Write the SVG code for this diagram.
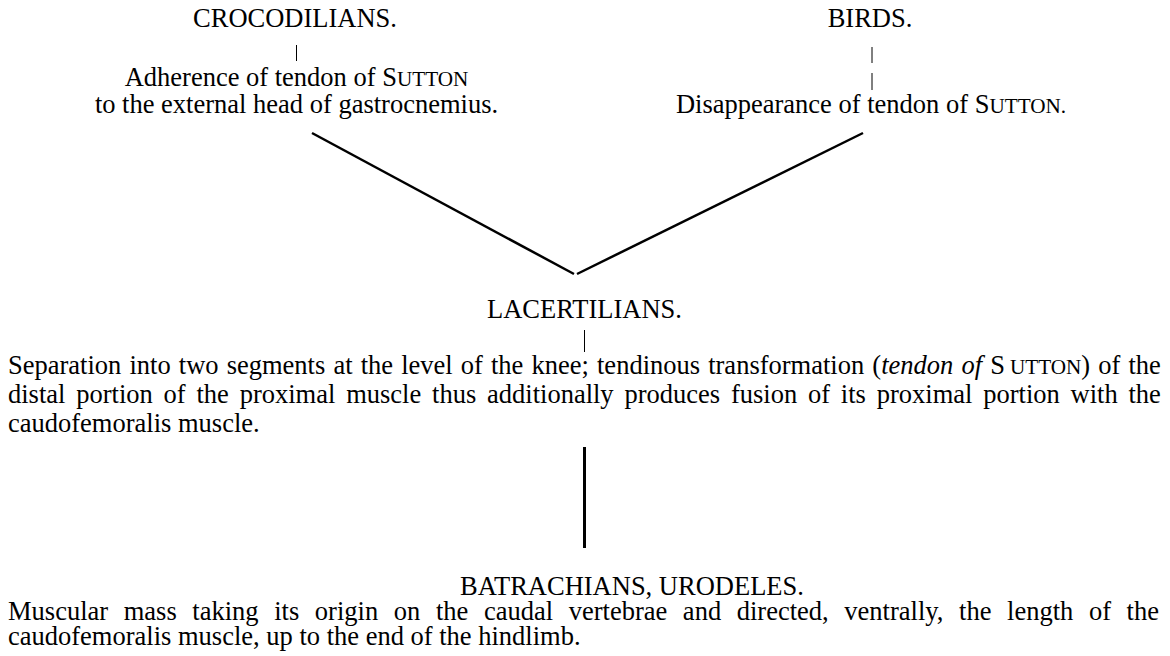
<svg xmlns="http://www.w3.org/2000/svg" width="1170" height="656" viewBox="0 0 1170 656">
<style>
text{font-family:"Liberation Serif","Times New Roman",serif;font-size:26.5px;fill:#000}
.c{text-anchor:middle}
.sc{font-size:21.2px}
.it{font-style:italic}
.tick{stroke:#000;stroke-width:1}
.diag{stroke:#000;stroke-width:2.5;fill:none}
.stem{stroke:#000;stroke-width:3}
</style>
<rect width="1170" height="656" fill="#fff"/>
<g id="crocodilians">
<text class="c" x="295" y="27">CROCODILIANS.</text>
<text class="c" x="296.5" y="86">Adherence of tendon of S<tspan class="sc">UTTON</tspan></text>
<text class="c" x="296.5" y="113">to the external head of gastrocnemius.</text>
</g>
<g id="birds">
<text class="c" x="870" y="27">BIRDS.</text>
<text class="c" x="871" y="113">Disappearance of tendon of S<tspan class="sc">UTTON.</tspan></text>
</g>
<g id="lacertilians">
<text class="c" x="584.5" y="318">LACERTILIANS.</text>
<text x="8" y="374" style="word-spacing:1.5px">Separation into two segments at the level of the knee; tendinous transformation (<tspan class="it">tendon of</tspan> S<tspan class="sc" dx="5">UTTON</tspan>) of the</text>
<text x="8" y="403" style="word-spacing:4.19px">distal portion of the proximal muscle thus additionally produces fusion of its proximal portion with the</text>
<text x="8" y="432">caudofemoralis muscle.</text>
</g>
<g id="batrachians">
<text class="c" x="632" y="595">BATRACHIANS, URODELES.</text>
<text x="8" y="620" style="word-spacing:9px">Muscular mass taking its origin on the caudal vertebrae and directed, ventrally, the length of the</text>
<text x="8" y="645">caudofemoralis muscle, up to the end of the hindlimb.</text>
</g>
<g id="connectors">
<line class="tick" x1="296.5" y1="45" x2="296.5" y2="61"/>
<line class="tick" x1="872" y1="47" x2="872" y2="63"/>
<line class="tick" x1="872" y1="73" x2="872" y2="90"/>
<line class="diag" x1="312" y1="133" x2="574" y2="274"/>
<line class="diag" x1="577" y1="274" x2="863" y2="133"/>
<line class="tick" x1="584.5" y1="330" x2="584.5" y2="352"/>
<line class="stem" x1="584.5" y1="447" x2="584.5" y2="548"/>
</g>
</svg>
